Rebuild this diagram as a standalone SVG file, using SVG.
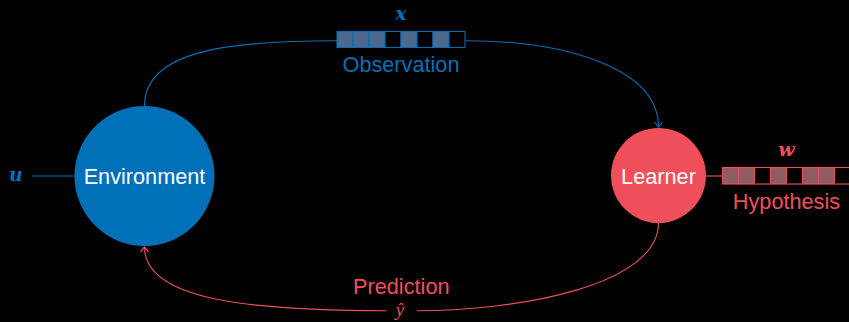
<svg xmlns="http://www.w3.org/2000/svg" width="849" height="322" viewBox="0 0 849 322">
<style>
.lbl{font-family:"Liberation Sans",Arial,sans-serif;font-size:21.7px;text-anchor:middle}
.math{font-family:"DejaVu Serif","Liberation Serif",serif;font-style:italic;font-weight:bold;font-size:19px;text-anchor:middle}
.blue{fill:#0a6fb6}
.red{fill:#ef4f5b}
.bline{fill:none;stroke:#0a6fb6;stroke-width:1.1}
.rline{fill:none;stroke:#ef4f5b;stroke-width:1.1}
.bcell{stroke:#0a6fb6;stroke-width:1.1}
.rcell{stroke:#ef4f5b;stroke-width:1.1}
.bf{fill:#4d6a8e}
.rf{fill:#8e5d5f}
.e{fill:#000}
</style>
<defs>
<marker id="ab" viewBox="-6 -5 7 10" refX="0" refY="0" markerWidth="7" markerHeight="10" markerUnits="userSpaceOnUse" orient="auto">
<path d="M-5,-4 Q-1,-1 0,0 Q-1,1 -5,4" fill="none" stroke="#0a6fb6" stroke-width="1.1"/>
</marker>
<marker id="ar" viewBox="-6 -5 7 10" refX="0" refY="0" markerWidth="7" markerHeight="10" markerUnits="userSpaceOnUse" orient="auto">
<path d="M-5,-4 Q-1,-1 0,0 Q-1,1 -5,4" fill="none" stroke="#ef4f5b" stroke-width="1.1"/>
</marker>
</defs>
<rect width="849" height="322" fill="#000"/>
<g id="connectors">
<line class="bline" x1="32" y1="176" x2="75" y2="176"/>
<path class="bline" d="M144.5,106 C144.5,50 230,40.7 337,40.7"/>
<path class="bline" d="M465.7,40.7 C565,40.7 658.5,68 658.5,127" marker-end="url(#ab)"/>
<line class="rline" x1="706" y1="176" x2="722" y2="176"/>
<path class="rline" d="M658.5,223 C658.5,285 520,310.7 416.7,310.7"/>
<path class="rline" d="M386.7,310.7 C250,310.7 144.5,300 144.5,247" marker-end="url(#ar)"/>
</g>
<g id="input-u">
<text class="math blue" x="16" y="180.5">u</text>
</g>
<g id="environment">
<circle cx="144.5" cy="176" r="70" fill="#0070b8"/>
<text class="lbl" x="144.5" y="183.5" fill="#fff">Environment</text>
</g>
<g id="learner">
<circle cx="658.5" cy="175.5" r="47.5" fill="#ef4f5b"/>
<text class="lbl" x="658.5" y="183.5" fill="#fff">Learner</text>
</g>
<g id="observation">
<rect class="bcell bf" x="337" y="31.5" width="16" height="16"/>
<rect class="bcell bf" x="353" y="31.5" width="16" height="16"/>
<rect class="bcell bf" x="369" y="31.5" width="16" height="16"/>
<rect class="bcell e" x="385" y="31.5" width="16" height="16"/>
<rect class="bcell bf" x="401" y="31.5" width="16" height="16"/>
<rect class="bcell e" x="417" y="31.5" width="16" height="16"/>
<rect class="bcell bf" x="433" y="31.5" width="16" height="16"/>
<rect class="bcell e" x="449" y="31.5" width="16" height="16"/>
<text class="math blue" x="401" y="19.5">x</text>
<text class="lbl blue" x="401" y="71.5">Observation</text>
</g>
<g id="hypothesis">
<rect class="rcell rf" x="722.5" y="167.5" width="16" height="16.5"/>
<rect class="rcell rf" x="738.5" y="167.5" width="16" height="16.5"/>
<rect class="rcell e" x="754.5" y="167.5" width="16" height="16.5"/>
<rect class="rcell rf" x="770.5" y="167.5" width="16" height="16.5"/>
<rect class="rcell e" x="786.5" y="167.5" width="16" height="16.5"/>
<rect class="rcell rf" x="802.5" y="167.5" width="16" height="16.5"/>
<rect class="rcell rf" x="818.5" y="167.5" width="16" height="16.5"/>
<rect class="rcell e" x="834.5" y="167.5" width="16" height="16.5"/>
<text class="math red" x="786.5" y="155.5">w</text>
<text class="lbl red" x="786.5" y="209">Hypothesis</text>
</g>
<g id="prediction">
<text class="lbl red" x="401.3" y="293.8">Prediction</text>
<text class="red" x="400" y="315.5" style="font-family:'Liberation Serif','Times New Roman',serif;font-style:italic;font-size:19px;text-anchor:middle">ŷ</text>
</g>
</svg>
